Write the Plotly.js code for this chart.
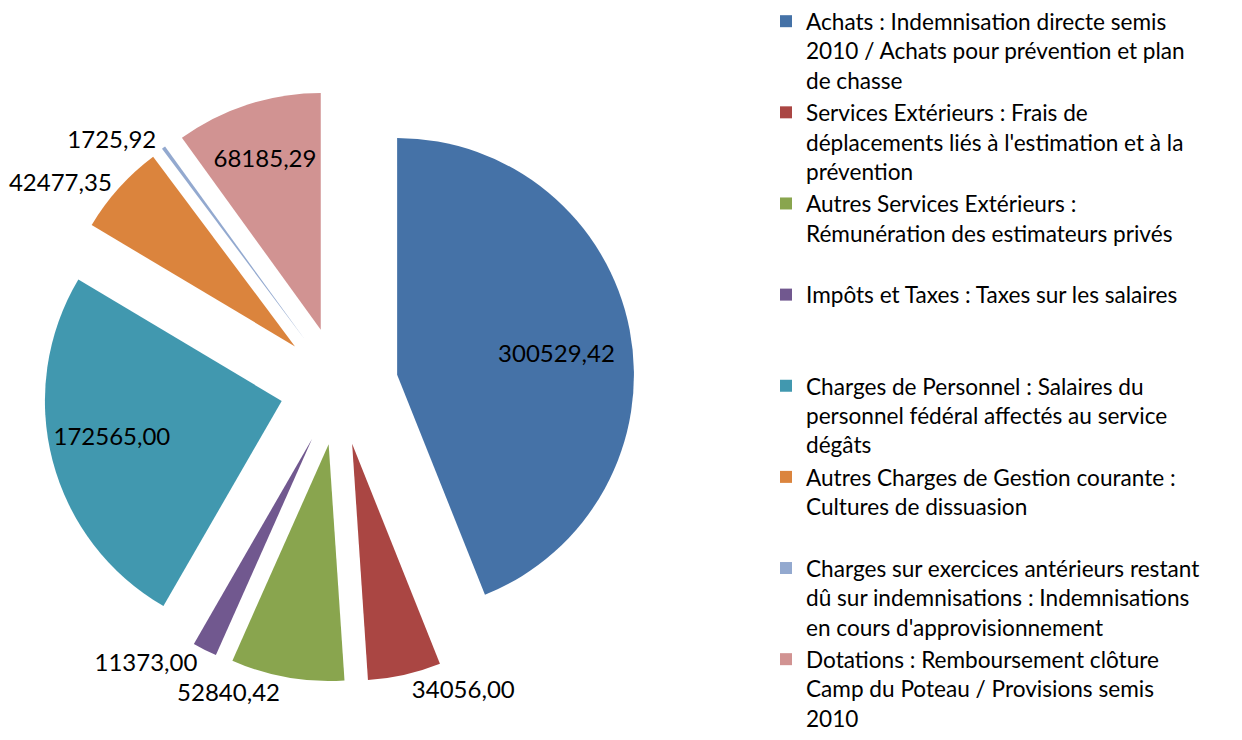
<!DOCTYPE html>
<html><head><meta charset="utf-8">
<script src="https://cdn.plot.ly/plotly-3.0.1.min.js"></script>
<style>html,body{margin:0;padding:0;background:#fff;} #chart{width:1242px;height:740px;}</style>
</head><body><div id="chart"></div>
<script>
// Data
const categories = [
  "Achats : Indemnisation directe semis\n2010 / Achats pour prévention et plan\nde chasse",
  "Services Extérieurs : Frais de\ndéplacements liés à l'estimation et à la\nprévention",
  "Autres Services Extérieurs :\nRémunération des estimateurs privés",
  "Impôts et Taxes : Taxes sur les salaires",
  "Charges de Personnel : Salaires du\npersonnel fédéral affectés au service\ndégâts",
  "Autres Charges de Gestion courante :\nCultures de dissuasion",
  "Charges sur exercices antérieurs restant\ndû sur indemnisations : Indemnisations\nen cours d'approvisionnement",
  "Dotations : Remboursement clôture\nCamp du Poteau / Provisions semis\n2010"
];
const values = [300529.42, 34056.00, 52840.42, 11373.00, 172565.00, 42477.35, 1725.92, 68185.29];

// Styling
const colors = ['#4572A7','#AA4643','#89A54E','#71588F','#4198AF','#DB843D','#93A9CF','#D19392'];
const textPos = ['inside','outside','outside','outside','inside','outside','outside','inside'];
// horizontal nudges of inside labels, in en-spaces (negative = shift left)
const labelNudge = [7, 0, 0, 0, -6, 0, 0, 0];

const FONT = 'Lato, "Open Sans", sans-serif';

// legend labels: each padded to 3 lines so entries are evenly spaced
const legendLabels = categories.map(c => {
  const lines = c.split('\n');
  while (lines.length < 3) lines.push('\u00a0');
  return lines.join('<br>');
});
const valueText = values.map((v, i) => {
  const s = v.toFixed(2).replace('.', ',');
  const n = labelNudge[i];
  const pad = '\u2002'.repeat(Math.abs(n));
  return n > 0 ? pad + s : s + pad;
});

const trace = {
  type: 'pie',
  labels: legendLabels,
  values: values,
  text: valueText,
  textinfo: 'text',
  hoverinfo: 'label+value',
  textposition: textPos,
  insidetextorientation: 'horizontal',
  textfont: {family: FONT, size: 24, color: '#000'},
  outsidetextfont: {family: FONT, size: 24, color: '#000'},
  insidetextfont: {family: FONT, size: 24, color: '#000'},
  marker: {colors: colors, line: {width: 0}},
  pull: values.map(() => 0.25),
  sort: false,
  direction: 'clockwise',
  rotation: 0,
  domain: {x: [43/1242, 635/1242], y: [1 - 682/740, 1 - 90/740]},
  automargin: false
};

const layout = {
  width: 1242, height: 740,
  margin: {l: 0, r: 0, t: 0, b: 0},
  paper_bgcolor: '#fff',
  showlegend: true,
  font: {family: FONT, size: 23, color: '#000'},
  legend: {
    x: 766/1242, xanchor: 'left',
    y: 1, yanchor: 'top',
    valign: 'top',
    font: {family: FONT, size: 22.6, color: '#000'},
    bgcolor: 'rgba(0,0,0,0)',
    maxheight: 2000,
    itemclick: false
  }
};

Plotly.newPlot('chart', [trace], layout, {displayModeBar: false, staticPlot: true});
</script>
</body></html>
